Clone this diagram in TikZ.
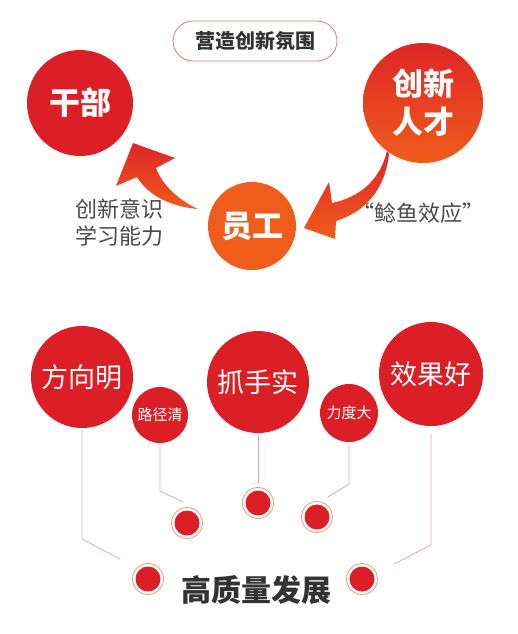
\documentclass[tikz,border=0pt]{standalone}
\usepackage{fontspec}
\setmainfont{Noto Sans CJK SC}
\definecolor{DeepRed}{HTML}{DC1F26}
\definecolor{TopRed}{HTML}{DF2528}
\definecolor{FlameOrange}{HTML}{EF5C1C}
\definecolor{TextGray}{HTML}{4A4A4A}
\definecolor{TextDark}{HTML}{333333}
\definecolor{LinkPink}{HTML}{EBA3AA}
\definecolor{RingTan}{HTML}{E2A68A}
\definecolor{PillRed}{HTML}{E27A7A}
\usetikzlibrary{positioning}
\tikzset{
  ball/.style={circle, inner sep=0pt, text=white, align=center},
  redball/.style={ball, fill=DeepRed},
  flame/.style={top color=TopRed, bottom color=FlameOrange},
  link/.style={draw=LinkPink, line width=0.8pt},
  dot/.style={circle, inner sep=0pt, fill=DeepRed, minimum size=25pt},
  ring/.style={draw=RingTan, line width=0.9pt}
}

\begin{document}
\begin{tikzpicture}[x=1pt, y=-1pt,
  bigtxt/.style={font=\bfseries\fontsize{31}{38}\selectfont},
  midtxt/.style={font=\fontsize{27}{27}\selectfont},
  smalltxt/.style={font=\fontsize{15}{15}\selectfont},
  note/.style={font=\fontsize{22}{27}\selectfont, text=TextGray, align=left}
]
\useasboundingbox (0,0) rectangle (518,634);

% top part
\node[draw=PillRed, line width=0.8pt, rounded corners=20pt, minimum width=164pt, minimum height=40pt,
  font=\bfseries\fontsize{20}{20}\selectfont, text=TextDark] (title) at (255,41) {营造创新氛围};
\node[redball, bigtxt, minimum size=106pt] (cadre) at (80,103) {干部};
\node[ball, flame, bigtxt, minimum size=120pt] (talent) at (423,103) {创新\\人才};
\node[ball, fill=FlameOrange, bigtxt, minimum size=88pt] (staff) at (252,226) {员工};

\path[flame] (198,209) .. controls (180,201) and (162,185) .. (156,168) -- (175,158) -- (133,143)
  -- (116,186) -- (137,177) .. controls (146,192) and (165,206) .. cycle;
\path[flame] (387,151) .. controls (380,180) and (360,197) .. (332,203) -- (329,182) -- (304,228)
  -- (335,239) -- (336,221) .. controls (365,212) and (385,190) .. (389,154) -- cycle;

\node[note, anchor=west] (skill) at (72,223) {创新意识\\学习能力};
\node[note] (catfish) at (418,213) {“鲶鱼效应”};

% bottom part
\node[redball, midtxt, minimum size=102pt] (fxm) at (82,377) {方向明};
\node[redball, smalltxt, minimum size=56pt] (ljq) at (160,415) {路径清};
\node[redball, midtxt, minimum size=102pt] (zss) at (258,382) {抓手实};
\node[redball, smalltxt, minimum size=58pt] (ldd) at (349,413) {力度大};
\node[redball, midtxt, minimum size=104pt] (xgh) at (431,374) {效果好};

\node[dot] (d1) at (187,523) {};
\node[dot] (d2) at (258,503) {};
\node[dot] (d3) at (317,517) {};
\node[dot] (d4) at (148,579) {};
\node[dot] (d5) at (362,579) {};
\foreach \d in {d1,d2,d3,d4,d5}
  \draw[ring] (\d) circle (15.5pt);

\node[font=\bfseries\fontsize{30}{30}\selectfont, text=TextDark] (goal) at (256,590) {高质量发展};

\coordinate (e1) at (120,559);
\coordinate (e2) at (183,502);
\coordinate (e3) at (258,483);
\coordinate (e4) at (328,497);
\coordinate (e5) at (394,564);
\draw[link] ([yshift=-2pt]fxm.south) -- (fxm.south |- 0,539) -- (e1);
\draw[link] ([yshift=-2pt]ljq.south) -- (ljq.south |- 0,491) -- (e2);
\draw[link] ([yshift=-2pt]zss.south) -- (e3);
\draw[link] ([yshift=-2pt]ldd.south) -- (ldd.south |- 0,484) -- (e4);
\draw[link] ([yshift=-8pt]xgh.south) -- (xgh.south |- 0,545) -- (e5);
\end{tikzpicture}
\end{document}
